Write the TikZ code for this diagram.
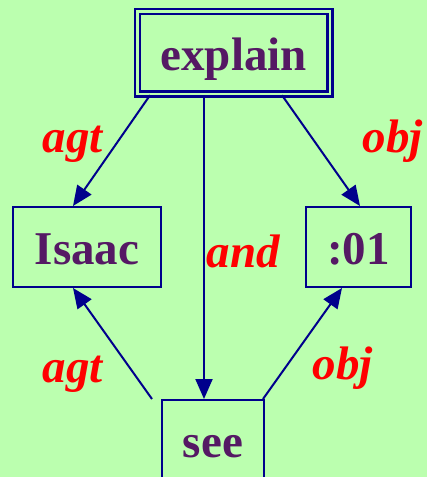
\documentclass[tikz,border=0pt]{standalone}
\usepackage{fontspec}
\setmainfont{Liberation Serif}
\usetikzlibrary{arrows.meta,calc}
\definecolor{bg}{RGB}{187,255,175}
\definecolor{navy}{RGB}{0,0,140}
\definecolor{txt}{RGB}{85,25,100}
\definecolor{labred}{RGB}{255,0,0}
\begin{document}
\begin{tikzpicture}[x=1pt,y=-1pt,
  box/.style={draw=navy, line width=2pt, text=txt,
    font=\fontsize{47}{56}\selectfont\bfseries, inner sep=0pt,
    text height=35pt, text depth=0pt, minimum height=80pt},
  lab/.style={text=labred, font=\fontsize{47}{56}\selectfont\bfseries\itshape,
    anchor=base, inner sep=0pt},
  conn/.style={draw=navy, line width=2pt, -{Triangle[length=20pt,width=17pt]}}]
\fill[bg] (0,0) rectangle (427,477);
\useasboundingbox (0,0) rectangle (427,477);
\clip (0,0) rectangle (427,477);
\node[box, line width=2.5pt, double=bg, double distance=2.5pt, minimum width=192.5pt, minimum height=82.5pt] (explain) at (233.75,52.75) {explain};
\node[box, minimum width=148pt] (isaac) at (87,247) {Isaac};
\node[box, minimum width=105pt] (o01) at (358.5,247) {:01};
\node[box, minimum width=102pt] (see) at (213,440) {see};
\draw[conn] ($(explain.south)+(-83.75,0)$) -- ($(isaac.north)+(-14,0)$);
\draw[conn] ($(explain.south)+(48.25,0)$) -- ($(o01.north)+(1.5,0)$);
\draw[conn] ($(explain.south)+(-29.75,0)$) -- ($(see.north)+(-9,0)$);
\draw[conn] ($(see.north)+(-61,0)$) -- ($(isaac.south)+(-14,0)$);
\draw[conn] ($(see.north)+(50,0)$) -- ($(o01.south)+(-16.5,0)$);
\node[lab] (l1) at (73,152) {agt};
\node[lab] (l2) at (393,152) {obj};
\node[lab] (l3) at (243.5,267) {and};
\node[lab] (l4) at (73,382) {agt};
\node[lab] (l5) at (343,379) {obj};
\end{tikzpicture}
\end{document}
